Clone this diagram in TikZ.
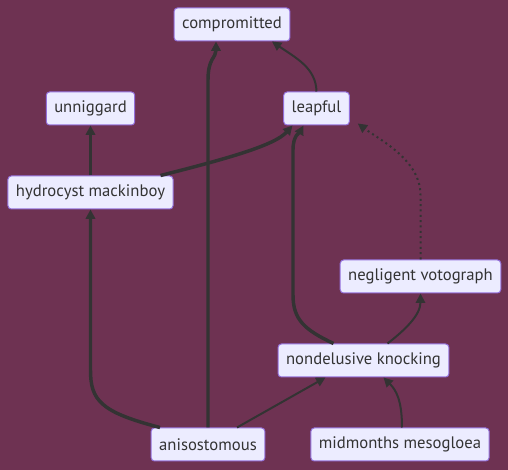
\documentclass[tikz,border=0pt]{standalone}
\usepackage{fontspec}
\setmainfont{PT Sans}
\usepackage{xcolor}
\usetikzlibrary{arrows.meta, positioning, calc}

\definecolor{bgplum}{RGB}{110,50,82}
\definecolor{boxfill}{HTML}{ECECFF}
\definecolor{boxline}{HTML}{9370DB}
\definecolor{edgegray}{HTML}{333333}

\begin{document}
\begin{tikzpicture}[
			x=0.75pt, y=-0.75pt,
			every node/.style={draw=boxline, fill=boxfill, rectangle, rounded corners=2.5pt, line width=0.75pt, minimum height=24.75pt, inner xsep=6pt, text=edgegray, font=\fontsize{12.5}{15}\selectfont},
			arrow/.style={-{Triangle[length=7pt,width=7pt]}, draw=edgegray, line width=1.5pt},
			thickarrow/.style={arrow, line width=2.6pt},
			dottedarrow/.style={arrow, dash pattern=on 1.5pt off 2.5pt}
			]
			
			% Background
			\fill [bgplum] (0,0) rectangle (508,470);
			\useasboundingbox (0,0) rectangle (508,470);
			
			% Nodes
			\node (comp) at (232,24.5) {compromitted};
			\node (unni) at (90.5,108.5) {unniggard};
			\node (leap) at (316.5,108.5) {leapful};
			\node (hydro) at (90.5,192.5) {hydrocyst mackinboy};
			\node (negl) at (420.5,276.5) {negligent votograph};
			\node (nond) at (363.5,360.5) {nondelusive knocking};
			\node (anis) at (208,444.5) {anisostomous};
			\node (midm) at (400,444.5) {midmonths mesogloea};
			
			% Connections
			\draw [thickarrow] (anis.north) -- (208,80) .. controls (208,58) and (216,58) .. ($(comp.south)+(-16,0)$);
			\draw [arrow] (leap.north) .. controls (316,68) and (296,58) .. ($(comp.south)+(40,0)$);
			\draw [thickarrow] (hydro.north) -- (unni.south);
			\draw [thickarrow] ($(hydro.north)+(70,0)$) .. controls (230,158) and (275,145) .. ($(leap.south)+(-24,0)$);
			\draw [thickarrow] ($(anis.north)+(-48,0)$) .. controls (100,412) and (90.5,400) .. (90.5,370) -- (hydro.south);
			\draw [arrow] ($(anis.north)+(29,0)$) -- ($(nond.south)+(-38,0)$);
			\draw [arrow] ($(midm.north)+(2,0)$) .. controls (402,400) and (396,390) .. ($(nond.south)+(20,0)$);
			\draw [thickarrow] ($(nond.north)+(-30,0)$) .. controls (305,330) and (293,320) .. (293,295) -- (293,150) .. controls (293,135) and (300,132) .. ($(leap.south)+(-13,0)$);
			\draw [arrow] ($(nond.north)+(24,0)$) .. controls (405,330) and (420.5,315) .. (negl.south);
			\draw [dottedarrow] (negl.north) -- (420.5,195) .. controls (420.5,160) and (380,140) .. ($(leap.south east)+(8,-2)$);
			
		\end{tikzpicture}
\end{document}
